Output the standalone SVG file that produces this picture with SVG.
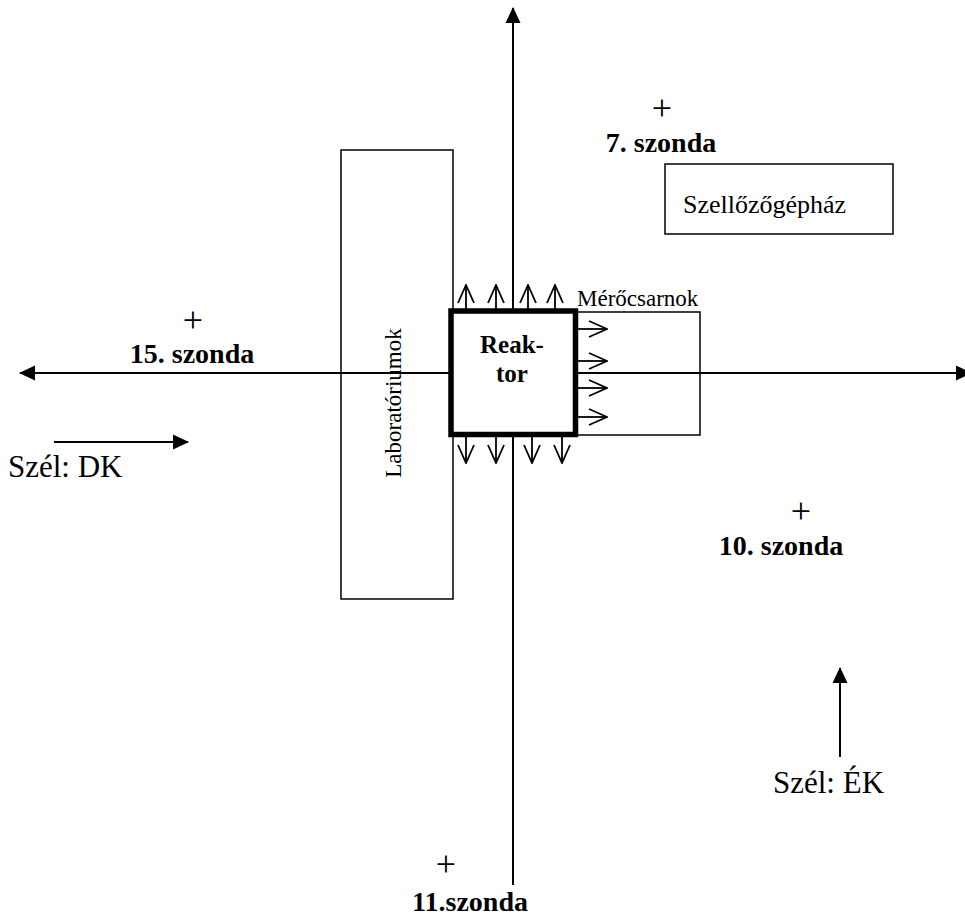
<svg xmlns="http://www.w3.org/2000/svg" width="965" height="917" viewBox="0 0 965 917">
<style>
  text { font-family: "Liberation Serif", "Times New Roman", serif; fill: #000; }
  .b { font-weight: bold; }
  .plus { font-size: 36px; text-anchor: middle; }
  .probe { font-size: 28px; font-weight: bold; text-anchor: middle; }
  .box { fill: none; stroke: #000; stroke-width: 1.5; }
  .ax { stroke: #000; stroke-width: 2; fill: none; }
  .flow { stroke: #000; stroke-width: 1.8; fill: none; }
</style>
<defs>
  <marker id="solid" viewBox="0 0 16 16" refX="15" refY="8" markerWidth="16" markerHeight="16" markerUnits="userSpaceOnUse" orient="auto">
    <path d="M0,0.5 L16,8 L0,15.5 Z" fill="#000"/>
  </marker>
  <marker id="open" viewBox="0 0 20 18" refX="19" refY="9" markerWidth="20" markerHeight="18" markerUnits="userSpaceOnUse" orient="auto">
    <path d="M1,1 L19,9 L1,17" fill="none" stroke="#000" stroke-width="1.8"/>
  </marker>
</defs>
<rect width="965" height="917" fill="#fff"/>

<g id="laboratoriumok">
  <rect class="box" x="341" y="150" width="112" height="449"/>
  <text x="0" y="0" font-size="23" text-anchor="middle" transform="translate(401,403) rotate(-90)">Laboratóriumok</text>
</g>

<g id="merocsarnok">
  <rect class="box" x="575" y="312" width="125" height="123"/>
  <text x="577" y="306" font-size="23">Mérőcsarnok</text>
</g>

<g id="szellozogephaz">
  <rect class="box" x="665" y="164" width="228" height="70"/>
  <text x="683" y="213" font-size="26">Szellőzőgépház</text>
</g>

<g id="connectors">
  <line class="ax" x1="35" y1="373" x2="971" y2="373" marker-end="url(#solid)"/>
  <line class="ax" x1="955" y1="373" x2="20" y2="373" marker-end="url(#solid)"/>
  <line class="ax" x1="513" y1="885" x2="513" y2="8" marker-end="url(#solid)"/>
  <line class="ax" x1="54" y1="442" x2="188" y2="442" marker-end="url(#solid)"/>
  <line class="ax" x1="840" y1="757" x2="840" y2="668" marker-end="url(#solid)"/>
  <g id="flows-up">
    <line class="flow" x1="466" y1="309" x2="466" y2="285" marker-end="url(#open)"/>
    <line class="flow" x1="496" y1="309" x2="496" y2="285" marker-end="url(#open)"/>
    <line class="flow" x1="528" y1="309" x2="528" y2="285" marker-end="url(#open)"/>
    <line class="flow" x1="555" y1="309" x2="555" y2="285" marker-end="url(#open)"/>
  </g>
  <g id="flows-right">
    <line class="flow" x1="578" y1="329" x2="607" y2="329" marker-end="url(#open)"/>
    <line class="flow" x1="578" y1="361" x2="607" y2="361" marker-end="url(#open)"/>
    <line class="flow" x1="578" y1="388" x2="607" y2="388" marker-end="url(#open)"/>
    <line class="flow" x1="578" y1="417" x2="607" y2="417" marker-end="url(#open)"/>
  </g>
  <g id="flows-down">
    <line class="flow" x1="466" y1="437" x2="466" y2="463" marker-end="url(#open)"/>
    <line class="flow" x1="496" y1="437" x2="496" y2="463" marker-end="url(#open)"/>
    <line class="flow" x1="532" y1="437" x2="532" y2="463" marker-end="url(#open)"/>
    <line class="flow" x1="562" y1="437" x2="562" y2="463" marker-end="url(#open)"/>
  </g>
</g>

<g id="reaktor">
  <rect x="451" y="311" width="124.5" height="123.5" fill="#fff" stroke="#000" stroke-width="5.5"/>
  <text x="512" y="353" font-size="25" class="b" text-anchor="middle">Reak-</text>
  <text x="512" y="382" font-size="25" class="b" text-anchor="middle">tor</text>
</g>

<g id="szonda7">
  <text class="plus" x="662" y="120">+</text>
  <text class="probe" x="661" y="152">7. szonda</text>
</g>
<g id="szonda15">
  <text class="plus" x="193" y="332">+</text>
  <text class="probe" x="192" y="363">15. szonda</text>
</g>
<g id="szonda10">
  <text class="plus" x="801" y="523" font-size="32">+</text>
  <text class="probe" x="781" y="555">10. szonda</text>
</g>
<g id="szonda11">
  <text class="plus" x="446" y="876">+</text>
  <text class="probe" x="470" y="911">11.szonda</text>
</g>

<g id="szel-dk">
  <text x="8" y="477" font-size="31">Szél: DK</text>
</g>
<g id="szel-ek">
  <text x="773" y="793" font-size="31">Szél: ÉK</text>
</g>
</svg>
